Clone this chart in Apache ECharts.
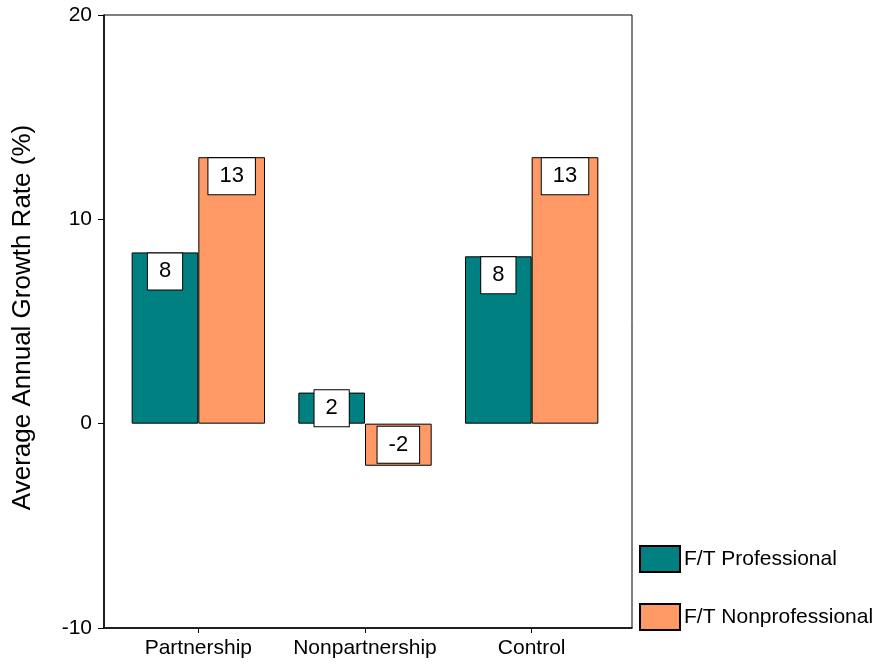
<!DOCTYPE html>
<html>
<head>
<meta charset="utf-8">
<script src="https://cdn.jsdelivr.net/npm/echarts@6/dist/echarts.min.js"></script>
<style>
  html, body { margin: 0; padding: 0; background: #fff; }
  #chart { width: 878px; height: 666px; }
</style>
</head>
<body>
<div id="chart"></div>
<script>
// chart data
const categories = ['Partnership', 'Nonpartnership', 'Control']
const professional = [8.38, 1.52, 8.19]
const nonprofessional = [13.04, -2.06, 13.04]
const professionalLabels = ['8', '2', '8']
const nonprofessionalLabels = ['13', '-2', '13']
const yTicks = [-10, 0, 10, 20]

const FONT = 'Liberation Sans, Arial, sans-serif'

// label sits at the top of tall bars, centred in short ones
function makeData(values, labels) {
  return values.map((v, i) => {
    const small = Math.abs(v) < 3
    return {
      value: v,
      label: {
        formatter: labels[i],
        position: small ? 'inside' : 'insideTop',
        distance: 1
      }
    }
  })
}

const labelStyle = {
  show: true,
  color: '#000',
  fontFamily: FONT,
  fontSize: 22,
  lineHeight: 22,
  backgroundColor: '#fff',
  borderColor: '#000',
  borderWidth: 1,
  padding: [7, 11, 7, 11]
}

const chart = echarts.init(document.getElementById('chart'))
chart.setOption({
  animation: false,
  textStyle: { fontFamily: FONT },
  grid: [
    // bars: category band inset inside the frame
    { left: 115, right: 263, top: 15, bottom: 38 },
    // frame
    { left: 104, right: 246, top: 15, bottom: 38, show: true, borderColor: '#000', borderWidth: 1, backgroundColor: 'transparent' }
  ],
  legend: {
    orient: 'vertical',
    left: 634,
    top: 540,
    itemWidth: 40,
    itemHeight: 26,
    itemGap: 30,
    icon: 'rect',
    textStyle: { fontFamily: FONT, fontSize: 21, color: '#000', padding: [4, 0, 0, -1] },
    data: ['F/T Professional', 'F/T Nonprofessional']
  },
  xAxis: [
    {
      type: 'category',
      gridIndex: 0,
      data: categories,
      axisLine: { show: false, onZero: false },
      axisTick: { show: true, alignWithLabel: true, length: 5, lineStyle: { color: '#000' } },
      axisLabel: { color: '#000', fontSize: 21, fontFamily: FONT, margin: 10, interval: 0 }
    },
    {
      type: 'value',
      gridIndex: 1,
      axisLine: { onZero: false, lineStyle: { color: '#000', width: 1.5 } },
      axisTick: { show: false },
      axisLabel: { show: false },
      splitLine: { show: false }
    }
  ],
  yAxis: [
    {
      type: 'value',
      gridIndex: 0,
      offset: 11,
      min: yTicks[0],
      max: yTicks[yTicks.length - 1],
      interval: 10,
      name: 'Average Annual Growth Rate (%)',
      nameLocation: 'middle',
      nameGap: 68,
      nameTextStyle: { color: '#000', fontSize: 26, fontFamily: FONT, padding: [0, 0, 0, 8] },
      axisLine: { show: true, lineStyle: { color: '#000', width: 1.5 } },
      axisTick: { show: true, length: 6, lineStyle: { color: '#000' } },
      axisLabel: { color: '#000', fontSize: 21, fontFamily: FONT, margin: 12 },
      splitLine: { show: false }
    },
    {
      type: 'value',
      gridIndex: 1,
      axisLine: { show: false },
      axisTick: { show: false },
      axisLabel: { show: false },
      splitLine: { show: false }
    }
  ],
  series: [
    {
      name: 'F/T Professional',
      type: 'bar',
      data: makeData(professional, professionalLabels),
      barGap: '0%',
      barCategoryGap: '20%',
      itemStyle: { color: '#008080', borderColor: '#000', borderWidth: 1 },
      label: labelStyle
    },
    {
      name: 'F/T Nonprofessional',
      type: 'bar',
      data: makeData(nonprofessional, nonprofessionalLabels),
      barGap: '0%',
      barCategoryGap: '20%',
      itemStyle: { color: '#FF9966', borderColor: '#000', borderWidth: 1 },
      label: labelStyle
    }
  ]
})
</script>
</body>
</html>
